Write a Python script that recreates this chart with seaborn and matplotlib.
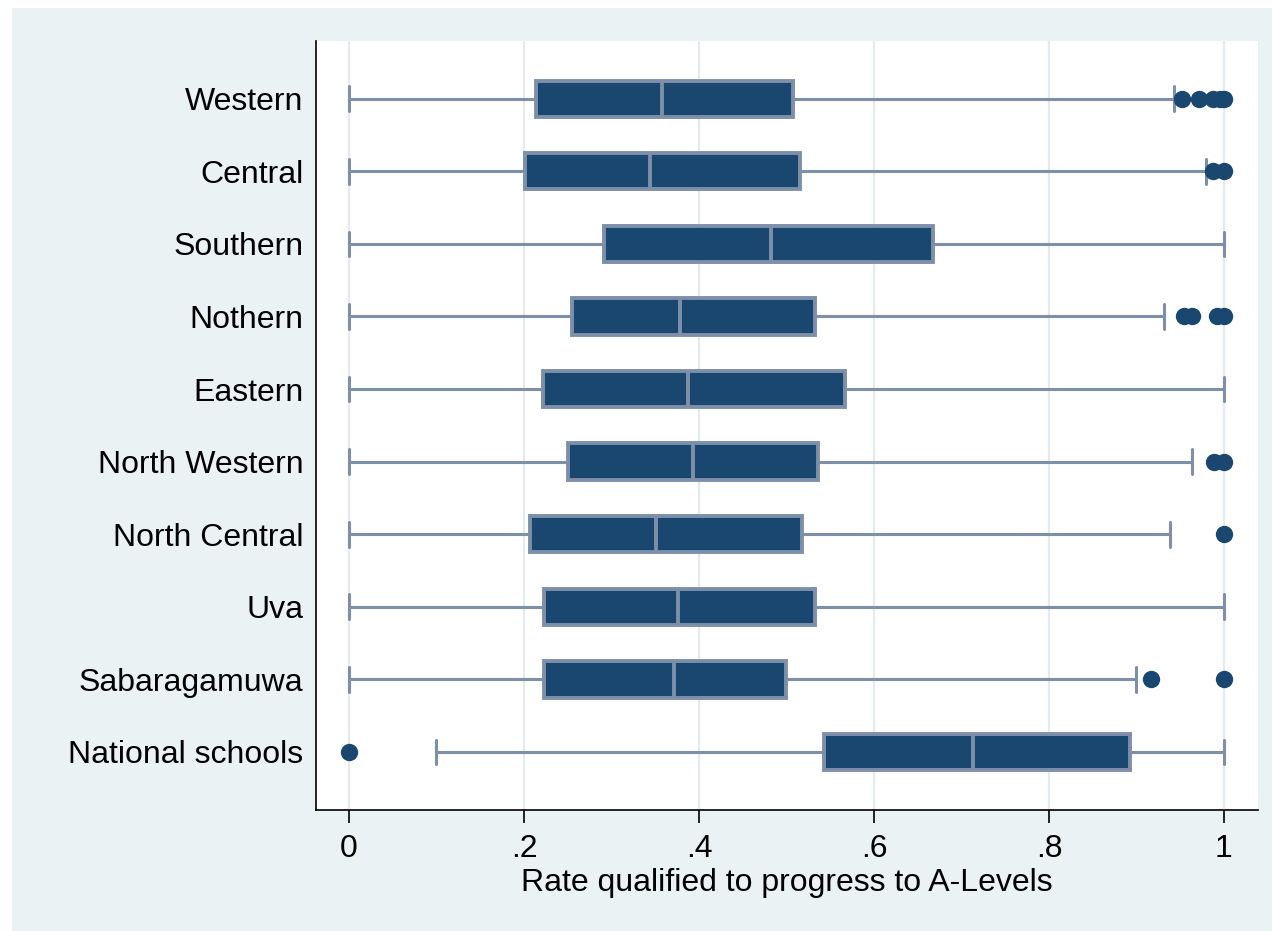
import numpy as np
import pandas as pd
import matplotlib
matplotlib.use("Agg")
import matplotlib.pyplot as plt
from matplotlib.patches import Rectangle
import seaborn as sns

# %%
regions = ["Western", "Central", "Southern", "Nothern", "Eastern",
           "North Western", "North Central", "Uva", "Sabaragamuwa",
           "National schools"]

# five-number summaries
whisker_low = [0.0, 0.0, 0.0, 0.0, 0.0, 0.0, 0.0, 0.0, 0.0, 0.100]
q1 = [0.214, 0.201, 0.292, 0.255, 0.222, 0.250, 0.207, 0.223, 0.223, 0.543]
median = [0.358, 0.344, 0.482, 0.378, 0.388, 0.393, 0.351, 0.376, 0.372, 0.713]
q3 = [0.508, 0.515, 0.667, 0.533, 0.567, 0.536, 0.518, 0.533, 0.499, 0.893]
whisker_high = [0.943, 0.980, 1.0, 0.931, 1.0, 0.964, 0.938, 1.0, 0.900, 1.0]

# outside values
outlier_region = ["Western"] * 5 + ["Central"] * 2 + ["Nothern"] * 4 + \
    ["North Western"] * 2 + ["North Central"] + ["Sabaragamuwa"] * 2 + ["National schools"]
outlier_value = [0.952, 0.972, 0.987, 0.995, 1.0,
                 0.988, 1.0,
                 0.954, 0.963, 0.992, 1.0,
                 0.989, 1.0,
                 1.0,
                 0.917, 1.0,
                 0.0]

xticks = [0, 0.2, 0.4, 0.6, 0.8, 1.0]
xtick_labels = ["0", ".2", ".4", ".6", ".8", "1"]

# %%
rows = []
for i, r in enumerate(regions):
    for v in (whisker_low[i], q1[i], median[i], q3[i], whisker_high[i]):
        rows.append({"region": r, "rate": v})
df = pd.DataFrame(rows)
out = pd.DataFrame({"region": outlier_region, "rate": outlier_value})

navy = "#1A476F"
edge = "#7D8FA9"
bg = "#EAF2F3"

sns.set_style("white")
plt.rcParams["font.family"] = ["Liberation Sans", "DejaVu Sans"]
plt.rcParams["text.color"] = "black"
plt.rcParams["axes.labelcolor"] = "black"
plt.rcParams["xtick.color"] = "black"
plt.rcParams["ytick.color"] = "black"

fig = plt.figure(figsize=(12.72, 9.31), dpi=100, facecolor="white")
fig.patches.append(Rectangle((12 / 1272, 0), 1, 1 - 8 / 931, transform=fig.transFigure,
                             facecolor=bg, edgecolor="none", zorder=-10))
ax = fig.add_axes([316 / 1272, 1 - 810 / 931, (1258 - 316) / 1272, (810 - 40.7) / 931])
ax.set_facecolor("white")

sns.boxplot(data=df, x="rate", y="region", order=regions, orient="h",
            whis=(0, 100), showfliers=False, width=0.5, color=navy,
            saturation=1, linecolor=edge, linewidth=2.8, capwidths=0.34,
            whiskerprops={"linewidth": 2.2}, capprops={"linewidth": 2.2},
            ax=ax)
sns.stripplot(data=out, x="rate", y="region", order=regions, orient="h",
              jitter=False, color=navy, size=12.5, linewidth=0, zorder=5, ax=ax)

ax.set_xlim(-0.0377, 1.039)
ax.set_ylim(9.8, -0.8)
ax.set_xticks(xticks)
ax.set_xticklabels(xtick_labels)
ax.grid(axis="x", color="#E3EBEE", linewidth=1.6)
ax.grid(axis="y", visible=False)
ax.set_axisbelow(True)

for s in ["top", "right"]:
    ax.spines[s].set_visible(False)
for s in ["left", "bottom"]:
    ax.spines[s].set_color("black")
    ax.spines[s].set_linewidth(1.2)

ax.tick_params(axis="y", length=0, pad=9, labelsize=23)
ax.tick_params(axis="x", length=9, width=1.2, color="black", pad=8,
               direction="out", bottom=True, labelsize=23)
ax.set_ylabel("")
ax.set_xlabel("Rate qualified to progress to A-Levels", fontsize=23, labelpad=3)

fig.savefig("out.png", dpi=100, facecolor=fig.get_facecolor())
